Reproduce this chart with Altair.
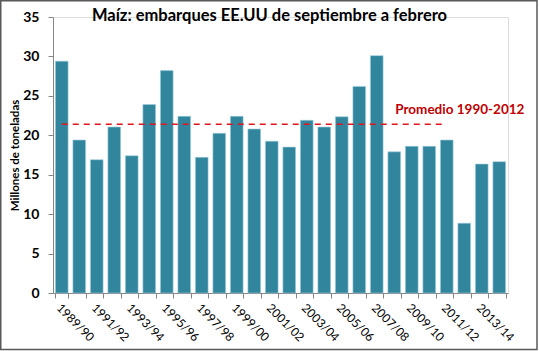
import altair as alt
import pandas as pd

seasons = ["1989/90", "1990/91", "1991/92", "1992/93", "1993/94", "1994/95",
           "1995/96", "1996/97", "1997/98", "1998/99", "1999/00", "2000/01",
           "2001/02", "2002/03", "2003/04", "2004/05", "2005/06", "2006/07",
           "2007/08", "2008/09", "2009/10", "2010/11", "2011/12", "2012/13",
           "2013/14", "2014/15"]
values = [29.4, 19.4, 16.9, 21.05, 17.4, 23.9, 28.2, 22.4, 17.2, 20.25, 22.4, 20.8,
          19.25, 18.5, 21.9, 21.05, 22.35, 26.2, 30.1, 17.9, 18.6, 18.6, 19.4, 8.85,
          16.35, 16.65]
y_ticks = [0, 5, 10, 15, 20, 25, 30, 35]
avg_value = 21.4
avg_start = "1989/90"
avg_end = "2011/12"
avg_label = "Promedio 1990-2012"
label_season = "2008/09"
title_text = "Maíz: embarques EE.UU de septiembre a febrero"
y_title = "Millones de toneladas"

df = pd.DataFrame({"season": seasons, "value": values})
avg_df = pd.DataFrame({"start": [avg_start], "end": [avg_end], "avg": [avg_value],
                       "lab_season": [label_season], "label": [avg_label]})

FONT = "Lato"

xscale = alt.Scale(domain=seasons, paddingInner=0.275, paddingOuter=0.1375)
yscale = alt.Scale(domain=[0, 35])

x_axis = alt.Axis(
    title=None, labelAngle=45, labelAlign="left", labelBaseline="top",
    labelFont=FONT, labelFontSize=12, labelColor="#000000",
    labelExpr="toNumber(substring(datum.value,0,4)) % 2 == 1 ? datum.value : ''",
    tickBand="extent", tickColor="#868686", domainColor="#868686",
    tickSize=5, labelPadding=4, labelOverlap=False, labelBound=False)
y_axis = alt.Axis(
    title=y_title, values=y_ticks, grid=False, labelOverlap=False,
    labelFont=FONT, labelFontSize=14, labelFontWeight="bold", labelColor="#000000",
    tickColor="#868686", domainColor="#868686", tickSize=5, labelPadding=9,
    titleFont=FONT, titleFontSize=11.5, titleFontWeight="bold", titleColor="#000000",
    titleAngle=-90, titleX=-38, titleY=138, titleAlign="center", titleBaseline="middle")

bars = alt.Chart(df).mark_bar(color="#31859C", stroke="#9fcfdc", strokeWidth=0.6).encode(
    x=alt.X("season:N", scale=xscale, sort=seasons, axis=x_axis),
    y=alt.Y("value:Q", scale=yscale, axis=y_axis),
)

rule = alt.Chart(avg_df).mark_rule(color="#E3141B", strokeDash=[6, 5], strokeWidth=1.6).encode(
    x=alt.X("start:N", scale=xscale, bandPosition=0.5, axis=x_axis),
    x2=alt.X2("end:N", bandPosition=0.5),
    y=alt.Y("avg:Q", scale=yscale, axis=y_axis),
)

label = alt.Chart(avg_df).mark_text(
    color="#C00000", font=FONT, fontSize=13.5, fontWeight="bold",
    align="left", baseline="middle", dx=1, dy=-14).encode(
    x=alt.X("lab_season:N", scale=xscale, bandPosition=0.5, axis=x_axis),
    y=alt.Y("avg:Q", scale=yscale, axis=y_axis),
    text="label:N",
)

title = alt.Chart(alt.Data(values=[{"t": title_text}])).mark_text(
    font=FONT, fontSize=16.5, fontWeight="bold", color="#000000",
    align="center", baseline="alphabetic").encode(
    x=alt.value(216.5), y=alt.value(4), text="t:N")

frame = alt.Chart(alt.Data(values=[{}])).mark_rect(
    fillOpacity=0, stroke="#595959", strokeWidth=1.5).encode(
    x=alt.value(-52.25), x2=alt.value(484), y=alt.value(-16.25), y2=alt.value(332.5))

chart = alt.layer(bars, rule, label, title, frame).properties(
    width=455, height=276,
    autosize=alt.AutoSizeParams(type="none"),
    padding={"left": 53, "top": 17, "right": 31, "bottom": 58},
).configure_view(stroke=None).configure(background="#ffffff")

chart.save("out.html", embed_options={"renderer": "svg", "actions": False})
